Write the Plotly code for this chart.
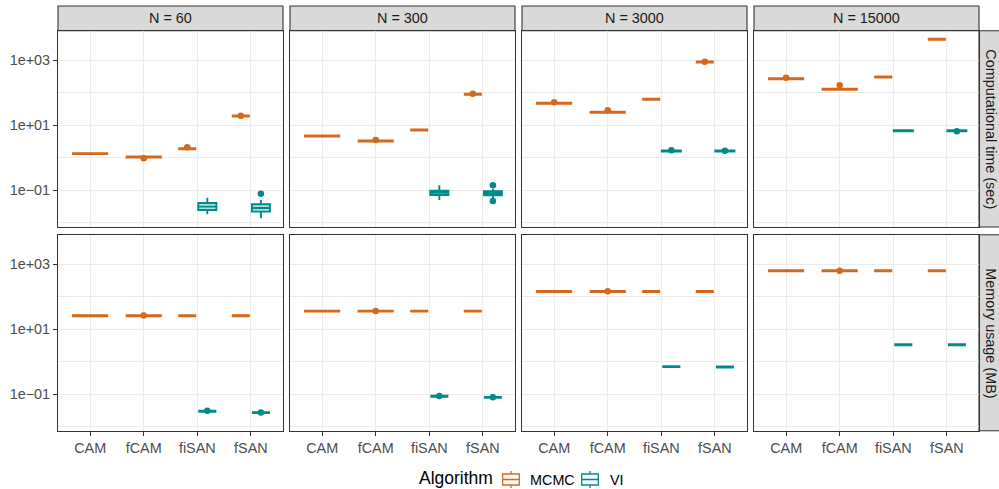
import plotly.graph_objects as go

W, H = 999, 489

categories = ["CAM", "fCAM", "fiSAN", "fSAN"]
sample_sizes = [60, 300, 3000, 15000]
metrics = ["Computational time (sec)", "Memory usage (MB)"]
algorithms = ["MCMC", "VI"]
vi_categories = ["fiSAN", "fSAN"]

# ---- Computational time (sec) ----
# MCMC: median per sample size (rows) and method (columns); boxes are essentially flat
time_mcmc_median = [
    [1.34, 1.06, 1.90, 19.3],
    [4.69, 3.29, 7.17, 90.0],
    [47.5, 25.1, 63.0, 887.0],
    [271.0, 128.0, 306.0, 4430.0],
]
time_mcmc_outliers = [
    [[], [0.97], [2.09], [19.8]],
    [[], [3.53], [], [93.0]],
    [[51.0], [29.0], [], [906.0]],
    [[292.0], [170.0], [], []],
]
# VI: five-number summaries for fiSAN and fSAN
time_vi_lower = [[0.0183, 0.0137], [0.0504, 0.0580], [1.60, 1.60], [6.78, 6.78]]
time_vi_q1 = [[0.0248, 0.0220], [0.0716, 0.0701], [1.61, 1.61], [6.80, 6.80]]
time_vi_median = [[0.0313, 0.0285], [0.0843, 0.0810], [1.62, 1.62], [6.82, 6.82]]
time_vi_q3 = [[0.0406, 0.0371], [0.0972, 0.0930], [1.63, 1.63], [6.84, 6.84]]
time_vi_upper = [[0.0592, 0.0504], [0.1426, 0.1096], [1.64, 1.64], [6.86, 6.86]]
time_vi_outliers = [
    [[], [0.0785]],
    [[], [0.143, 0.047]],
    [[1.70], [1.65]],
    [[], [6.53]],
]

# ---- Memory usage (MB) ----
mem_mcmc_median = [
    [25.8, 25.8, 25.8, 25.8],
    [35.8, 35.8, 35.8, 35.8],
    [144.6, 144.6, 144.6, 144.6],
    [627.0, 627.0, 627.0, 627.0],
]
mem_mcmc_outliers = [
    [[], [26.1], [], []],
    [[], [36.1], [], []],
    [[], [146.0], [], []],
    [[], [634.0], [], []],
]
mem_vi_median = [[0.0294, 0.0268], [0.085, 0.079], [0.697, 0.678], [3.31, 3.31]]
mem_vi_outliers = [
    [[0.0305], [0.0272]],
    [[0.0865], [0.080]],
    [[], []],
    [[], []],
]

colors = {"MCMC": "#D2691E", "VI": "#008B8B"}
fills = {"MCMC": "rgba(210,105,30,0.3)", "VI": "rgba(0,139,139,0.3)"}

# ---- panel geometry (pixels) ----
col_px = [(58, 283), (290, 515), (522, 747), (754, 979)]
row_px = [(30.7, 227.0), (234.7, 430.7)]
strip_top = (6.0, 30.7)
strip_right = (979.0, 1004.0)
y_range = [-2.13, 3.91]
x_range = [0.4, 4.6]
single_w = 0.675
dodge_w = 0.3375
dodge_off = 0.1875


def px_x(p):
    return p / W


def px_y(p):
    return 1 - p / H


fig = go.Figure()


def add_box(ax, alg, pos, lo, q1, med, q3, hi, width, lw):
    fig.add_trace(go.Box(
        x=pos, q1=q1, median=med, q3=q3, lowerfence=lo, upperfence=hi,
        width=width, whiskerwidth=0, boxpoints=False,
        line=dict(color=colors[alg], width=lw), fillcolor=fills[alg],
        xaxis="x" + ax, yaxis="y" + ax, showlegend=False, hoverinfo="skip",
    ))


def add_points(ax, alg, pos, vals):
    xs, ys = [], []
    for p, v in zip(pos, vals):
        for val in v:
            xs.append(p)
            ys.append(val)
    if xs:
        fig.add_trace(go.Scatter(
            x=xs, y=ys, mode="markers",
            marker=dict(color=colors[alg], size=6.5),
            xaxis="x" + ax, yaxis="y" + ax, showlegend=False, hoverinfo="skip",
        ))


layout = dict(
    width=W, height=H, margin=dict(l=0, r=0, t=0, b=0),
    plot_bgcolor="white", paper_bgcolor="white",
    boxmode="overlay", showlegend=False,
    font=dict(family="Liberation Sans, Arial, sans-serif", color="#4D4D4D"),
)

shapes = []
annotations = []

for r, metric in enumerate(metrics):
    for c, n in enumerate(sample_sizes):
        idx = r * 4 + c + 1
        ax = "" if idx == 1 else str(idx)
        x0, x1 = col_px[c]
        y0, y1 = row_px[r]

        # MCMC boxes: CAM/fCAM alone, fiSAN/fSAN dodged left of VI
        if r == 0:
            med_m = time_mcmc_median[c]
            out_m = time_mcmc_outliers[c]
        else:
            med_m = mem_mcmc_median[c]
            out_m = mem_mcmc_outliers[c]
        pos_single = [1, 2]
        pos_dodge = [3 - dodge_off, 4 - dodge_off]
        add_box(ax, "MCMC", pos_single, med_m[:2], med_m[:2], med_m[:2], med_m[:2], med_m[:2],
                single_w, 2.9)
        add_box(ax, "MCMC", pos_dodge, med_m[2:], med_m[2:], med_m[2:], med_m[2:], med_m[2:],
                dodge_w, 2.9)
        add_points(ax, "MCMC", pos_single + pos_dodge, out_m)

        pos_vi = [3 + dodge_off, 4 + dodge_off]
        if r == 0:
            spread = time_vi_q3[c][0] / time_vi_q1[c][0] > 1.1
            add_box(ax, "VI", pos_vi, time_vi_lower[c], time_vi_q1[c], time_vi_median[c],
                    time_vi_q3[c], time_vi_upper[c], dodge_w, 1.9 if spread else 2.9)
            add_points(ax, "VI", pos_vi, time_vi_outliers[c])
        else:
            m = mem_vi_median[c]
            add_box(ax, "VI", pos_vi, m, m, m, m, m, dodge_w, 2.9)
            add_points(ax, "VI", pos_vi, mem_vi_outliers[c])

        layout["xaxis" + ax] = dict(
            domain=[px_x(x0), px_x(x1)], range=x_range, anchor="y" + ax,
            tickvals=[1, 2, 3, 4], ticktext=categories,
            showticklabels=(r == 1), ticks="outside" if r == 1 else "",
            ticklen=4, tickwidth=1.1, tickcolor="#333333",
            tickfont=dict(size=14.4, color="#4D4D4D"),
            showgrid=True, gridcolor="#EBEBEB", gridwidth=1.3, zeroline=False,
            showline=True, mirror=True, linecolor="#333333", linewidth=1.1,
        )
        layout["yaxis" + ax] = dict(
            domain=[px_y(y1), px_y(y0)], range=y_range, type="log", anchor="x" + ax,
            tickvals=[0.1, 10, 1000], ticktext=["1e\u221201", "1e+01", "1e+03"],
            showticklabels=(c == 0), ticks="outside" if c == 0 else "",
            ticklen=4, tickwidth=1.1, tickcolor="#333333",
            tickfont=dict(size=14.4, color="#4D4D4D"),
            showgrid=True, gridcolor="#EBEBEB", gridwidth=1.3, zeroline=False,
            minor=dict(tickvals=[0.01, 1, 100], showgrid=True, gridcolor="#EBEBEB",
                       gridwidth=0.7, ticks=""),
            showline=True, mirror=True, linecolor="#333333", linewidth=1.1,
        )

# facet strips along the top (sample size)
for c, n in enumerate(sample_sizes):
    x0, x1 = col_px[c]
    shapes.append(dict(type="rect", xref="paper", yref="paper",
                       x0=px_x(x0), x1=px_x(x1), y0=px_y(strip_top[1]), y1=px_y(strip_top[0]),
                       fillcolor="#D9D9D9", line=dict(color="#333333", width=1.1), layer="below"))
    annotations.append(dict(text=f"N = {n}", xref="paper", yref="paper",
                            x=px_x((x0 + x1) / 2), y=px_y(sum(strip_top) / 2),
                            showarrow=False, xanchor="center", yanchor="middle",
                            font=dict(size=14.4, color="#1A1A1A")))

# facet strips along the right (metric)
for r, metric in enumerate(metrics):
    y0, y1 = row_px[r]
    shapes.append(dict(type="rect", xref="paper", yref="paper",
                       x0=px_x(strip_right[0]), x1=px_x(strip_right[1]), y0=px_y(y1), y1=px_y(y0),
                       fillcolor="#D9D9D9", line=dict(color="#333333", width=1.1), layer="below"))
    annotations.append(dict(text=metric, xref="paper", yref="paper",
                            x=px_x(991.5), y=px_y((y0 + y1) / 2), textangle=90,
                            showarrow=False, xanchor="center", yanchor="middle",
                            font=dict(size=14.4, color="#1A1A1A")))

# legend: title + boxplot keys
leg_cy = 479.5
annotations.append(dict(text="Algorithm", xref="paper", yref="paper",
                        x=px_x(416.5), y=px_y(leg_cy - 1.5), showarrow=False,
                        xanchor="left", yanchor="middle",
                        font=dict(size=17.5, color="#000000")))
key_left = {"MCMC": 502.7, "VI": 581.7}
label_left = {"MCMC": 528.0, "VI": 608.0}
for alg in algorithms:
    kx0 = key_left[alg]
    kx1 = kx0 + 16.6
    kxm = (kx0 + kx1) / 2
    col = colors[alg]
    shapes.append(dict(type="line", xref="paper", yref="paper",
                       x0=px_x(kxm), x1=px_x(kxm), y0=px_y(leg_cy - 8.5), y1=px_y(leg_cy + 8.5),
                       line=dict(color=col, width=1.3)))
    shapes.append(dict(type="rect", xref="paper", yref="paper",
                       x0=px_x(kx0), x1=px_x(kx1), y0=px_y(leg_cy + 5.5), y1=px_y(leg_cy - 5.5),
                       fillcolor="white", line=dict(color=col, width=1.3)))
    shapes.append(dict(type="line", xref="paper", yref="paper",
                       x0=px_x(kx0), x1=px_x(kx1), y0=px_y(leg_cy), y1=px_y(leg_cy),
                       line=dict(color=col, width=1.6)))
    annotations.append(dict(text=alg, xref="paper", yref="paper",
                            x=px_x(label_left[alg]), y=px_y(leg_cy), showarrow=False,
                            xanchor="left", yanchor="middle",
                            font=dict(size=14.4, color="#000000")))

layout["shapes"] = shapes
layout["annotations"] = annotations
fig.update_layout(**layout)
fig.write_html("out.html")
